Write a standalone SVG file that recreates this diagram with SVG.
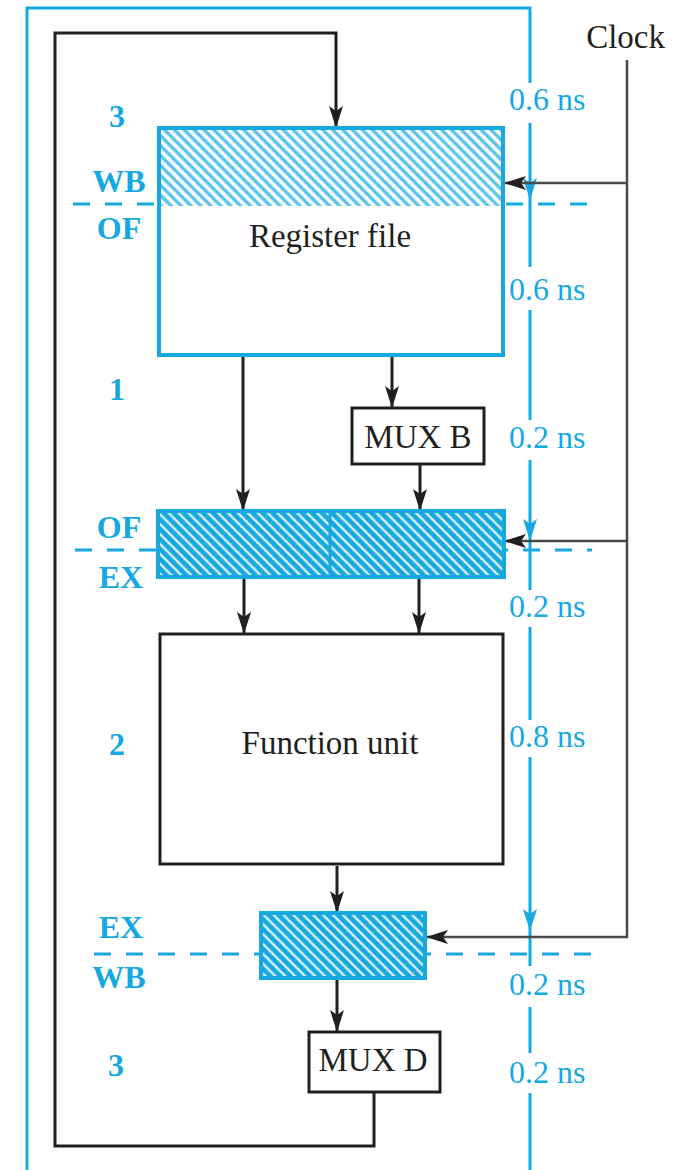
<svg xmlns="http://www.w3.org/2000/svg" width="676" height="1170" viewBox="0 0 676 1170">
<style>
.bl{fill:none;stroke:#16a8e0;stroke-width:3}
.dash{fill:none;stroke:#16a8e0;stroke-width:3;stroke-dasharray:17 15}
.k{fill:none;stroke:#231f20;stroke-width:3}
.ck{fill:none;stroke:#4a4a4a;stroke-width:2.5}
.box{fill:#fff;stroke:#231f20;stroke-width:3}
.t{font-family:"Liberation Serif","Times New Roman",serif;font-size:33px;fill:#231f20}
.tm{font-family:"Liberation Serif","Times New Roman",serif;font-size:32px;fill:#16a8e0}
.st{font-family:"Liberation Serif","Times New Roman",serif;font-size:32px;font-weight:bold;fill:#16a8e0;text-anchor:middle}
</style>
<defs>
<pattern id="hatch" patternUnits="userSpaceOnUse" width="7" height="7" patternTransform="rotate(-45)">
<rect width="7" height="7" fill="#16a8e0"/>
<line x1="1.5" y1="0" x2="1.5" y2="7" stroke="#fff" stroke-width="2"/>
</pattern>
<pattern id="hatchL" patternUnits="userSpaceOnUse" width="7" height="7" patternTransform="rotate(-45)">
<rect width="7" height="7" fill="#fff"/>
<line x1="3.5" y1="0" x2="3.5" y2="7" stroke="#5cc3ec" stroke-width="3.5"/>
</pattern>
<marker id="ak" viewBox="0 0 22 14" refX="21" refY="7" markerWidth="22" markerHeight="14" markerUnits="userSpaceOnUse" orient="auto">
<path d="M0,0 L22,7 L0,14 L5,7 z" fill="#231f20"/>
</marker>
<marker id="ab" viewBox="0 0 22 14" refX="21" refY="7" markerWidth="22" markerHeight="14" markerUnits="userSpaceOnUse" orient="auto">
<path d="M0,0 L22,7 L0,14 L5,7 z" fill="#16a8e0"/>
</marker>
</defs>

<g id="stage-dividers">
<path class="dash" d="M73,204 H158 M506,204 H592"/>
<path class="dash" d="M75,550 H592"/>
<path class="dash" d="M94,954 H592"/>
</g>

<g id="frame">
<path class="bl" d="M27,1172 V8 H530 V83"/>
</g>

<g id="timing">
<path class="bl" d="M530,123 V199" marker-end="url(#ab)"/>
<path class="bl" d="M530,199 V267"/>
<path class="bl" d="M530,310 V420"/>
<path class="bl" d="M530,460 V540" marker-end="url(#ab)"/>
<path class="bl" d="M530,540 V590"/>
<path class="bl" d="M530,627 V720"/>
<path class="bl" d="M530,757 V930" marker-end="url(#ab)"/>
<path class="bl" d="M530,930 V966"/>
<path class="bl" d="M530,1007 V1053"/>
<path class="bl" d="M530,1093 V1172"/>
<text class="tm" x="509" y="110">0.6 ns</text>
<text class="tm" x="509" y="300">0.6 ns</text>
<text class="tm" x="509" y="448">0.2 ns</text>
<text class="tm" x="509" y="617">0.2 ns</text>
<text class="tm" x="509" y="747">0.8 ns</text>
<text class="tm" x="509" y="995">0.2 ns</text>
<text class="tm" x="509" y="1083">0.2 ns</text>
</g>

<g id="connectors">
<path class="k" d="M374,1092 V1146 H55 V33 H336 V127" marker-end="url(#ak)"/>
<path class="k" d="M243,356 V510" marker-end="url(#ak)"/>
<path class="k" d="M392,356 V407" marker-end="url(#ak)"/>
<path class="k" d="M420,465 V510" marker-end="url(#ak)"/>
<path class="k" d="M244,578 V633" marker-end="url(#ak)"/>
<path class="k" d="M419,578 V633" marker-end="url(#ak)"/>
<path class="k" d="M337,866 V912" marker-end="url(#ak)"/>
<path class="k" d="M337,979 V1031" marker-end="url(#ak)"/>
<path class="ck" d="M627,60 V937 H427" marker-end="url(#ak)"/>
<path class="ck" d="M627,183 H505" marker-end="url(#ak)"/>
<path class="ck" d="M627,541 H505" marker-end="url(#ak)"/>
</g>

<g id="clock-label">
<text class="t" x="665" y="48" text-anchor="end">Clock</text>
</g>

<g id="register-file">
<rect x="159" y="128" width="344" height="227" fill="#fff" stroke="#16a8e0" stroke-width="4"/>
<rect x="161" y="130" width="340" height="76" fill="url(#hatchL)"/>
<text class="t" x="330" y="247" text-anchor="middle">Register file</text>
</g>

<g id="mux-b">
<rect class="box" x="352" y="408" width="132" height="56"/>
<text class="t" x="418" y="448" text-anchor="middle">MUX B</text>
</g>

<g id="of-ex-register">
<rect x="158" y="511" width="346" height="66" fill="url(#hatch)" stroke="#16a8e0" stroke-width="4"/>
<line x1="330" y1="511" x2="330" y2="577" stroke="#16a8e0" stroke-width="3"/>
</g>

<g id="function-unit">
<rect class="box" x="160" y="634" width="343" height="230"/>
<text class="t" x="330" y="754" text-anchor="middle">Function unit</text>
</g>

<g id="ex-wb-register">
<rect x="261" y="913" width="164" height="65" fill="url(#hatch)" stroke="#16a8e0" stroke-width="4"/>
</g>

<g id="mux-d">
<rect class="box" x="309" y="1032" width="131" height="60"/>
<text class="t" x="373" y="1071" text-anchor="middle">MUX D</text>
</g>

<g id="stage-labels">
<text class="st" x="117" y="127">3</text>
<text class="st" x="119" y="192">WB</text>
<text class="st" x="119" y="239">OF</text>
<text class="st" x="117" y="400">1</text>
<text class="st" x="119" y="538">OF</text>
<text class="st" x="121" y="588">EX</text>
<text class="st" x="117" y="755">2</text>
<text class="st" x="121" y="938">EX</text>
<text class="st" x="119" y="988">WB</text>
<text class="st" x="116" y="1076">3</text>
</g>
</svg>
